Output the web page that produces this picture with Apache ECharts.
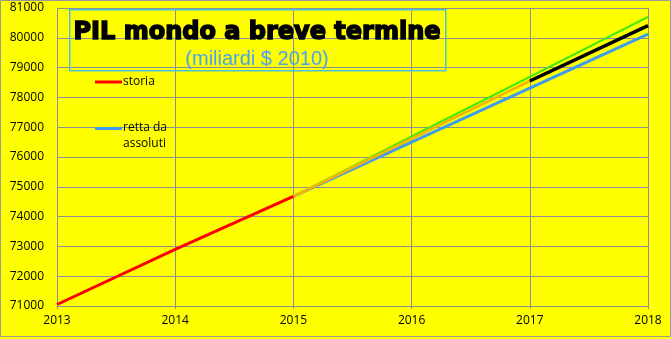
<!DOCTYPE html>
<html>
<head>
<meta charset="utf-8">
<script src="https://cdn.jsdelivr.net/npm/echarts@6/dist/echarts.min.js"></script>
<style>html,body{margin:0;padding:0;background:#ffff00;}#c{width:671px;height:339px;}</style>
</head>
<body>
<div id="c"></div>
<script>
var years = [2013, 2014, 2015, 2016, 2017, 2018];
var storia = [71050, 72900, 74680, null, null, null];
var prevOrange = [null, null, 74680, 76620, 78550, null];
var prevVerde = [null, null, 74680, 76690, 78690, 80700];
var rettaAssoluti = [null, null, 74680, 76500, 78310, 80120];
var prevNero = [null, null, null, null, 78550, 80410];
var yTicks = [71000, 72000, 73000, 74000, 75000, 76000, 77000, 78000, 79000, 80000, 81000];

function pairs(vals) {
  var out = [];
  for (var i = 0; i < years.length; i++) {
    if (vals[i] !== null) out.push([years[i], vals[i]]);
  }
  return out;
}

var chart = echarts.init(document.getElementById('c'), null, {renderer: 'canvas'});
var gridColor = '#8e8e96';
var iconTopLine = 'path://M0,0L0.01,0L0.01,0.01Z M0,7L27,7L27,10L0,10Z M0,31.99L0.01,31.99L0.01,32Z';
chart.setOption({
  backgroundColor: '#ffff00',
  animation: false,
  grid: {left: 57, right: 23, top: 8, bottom: 33, containLabel: false},
  xAxis: {
    type: 'value', min: years[0], max: years[years.length - 1], interval: 1,
    axisLine: {lineStyle: {color: gridColor, width: 1}},
    axisTick: {show: true, length: 3, lineStyle: {color: gridColor}},
    splitLine: {show: true, lineStyle: {color: gridColor, width: 1}},
    axisLabel: {color: '#000', fontFamily: 'Open Sans', fontSize: 12, margin: 9, formatter: function (v) { return String(v); }}
  },
  yAxis: {
    type: 'value', min: yTicks[0], max: yTicks[yTicks.length - 1], interval: 1000,
    axisLine: {show: true, lineStyle: {color: gridColor, width: 1}},
    axisTick: {show: false},
    splitLine: {show: true, lineStyle: {color: gridColor, width: 1}},
    axisLabel: {color: '#000', fontFamily: 'Open Sans', fontSize: 12, margin: 13, formatter: function (v) { return String(v); }}
  },
  legend: [
    {
      data: ['storia'], left: 90, top: 71, orient: 'vertical',
      itemWidth: 27, itemHeight: 3, itemGap: 4,
      textStyle: {fontFamily: 'Open Sans', fontSize: 12, color: '#000', padding: [0, 0, 0, -4]},
      icon: 'rect'
    },
    {
      data: ['retta da assoluti'], left: 90, top: 115, orient: 'vertical',
      itemWidth: 27, itemHeight: 32, symbolKeepAspect: false,
      textStyle: {fontFamily: 'Open Sans', fontSize: 12, lineHeight: 16, color: '#000', padding: [0, 0, 0, -4]},
      formatter: function () { return 'retta da\nassoluti'; },
      icon: iconTopLine
    }
  ],
  graphic: [
    {type: 'rect', left: 69, top: 9, shape: {width: 376, height: 61}, style: {fill: 'rgba(0,0,0,0)', stroke: '#4cc0d8', lineWidth: 1.5}, z: 10},
    {type: 'text', x: 257, y: 33, style: {text: 'PIL mondo a breve termine', fill: '#000', stroke: '#000', lineWidth: 1.5, font: 'bold 24px "DejaVu Sans"', textAlign: 'center', textVerticalAlign: 'middle'}, z: 11},
    {type: 'text', x: 257, y: 59, style: {text: '(miliardi $ 2010)', fill: '#4aa2f2', font: '20px "Liberation Sans"', textAlign: 'center', textVerticalAlign: 'middle'}, z: 11},
    {type: 'rect', left: 0, top: 0, shape: {width: 670, height: 336}, style: {fill: 'rgba(0,0,0,0)', stroke: '#9a9a9a', lineWidth: 1}, z: 12, silent: true}
  ],
  series: [
    {name: 'retta da assoluti', type: 'line', data: pairs(rettaAssoluti), symbol: 'none', lineStyle: {color: '#3d9cf0', width: 3}, itemStyle: {color: '#3d9cf0'}, z: 2},
    {name: 'verde', type: 'line', data: pairs(prevVerde), symbol: 'none', lineStyle: {color: '#33ee00', width: 2}, itemStyle: {color: '#33ee00'}, z: 3},
    {name: 'arancio', type: 'line', data: pairs(prevOrange), symbol: 'none', lineStyle: {color: '#f2b800', width: 3}, itemStyle: {color: '#f2b800'}, z: 4},
    {name: 'nero', type: 'line', data: pairs(prevNero), symbol: 'none', lineStyle: {color: '#000', width: 3.5}, itemStyle: {color: '#000'}, z: 5},
    {name: 'storia', type: 'line', data: pairs(storia), symbol: 'none', lineStyle: {color: '#ff0000', width: 3}, itemStyle: {color: '#ff0000'}, z: 6}
  ]
});
</script>
</body>
</html>
